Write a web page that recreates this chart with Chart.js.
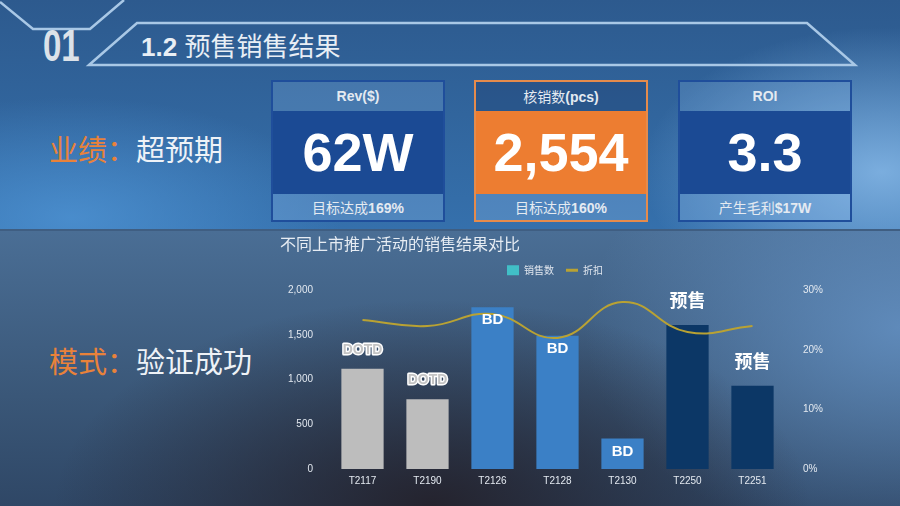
<!DOCTYPE html>
<html>
<head>
<meta charset="utf-8">
<script src="https://cdn.jsdelivr.net/npm/chart.js@4.4.1/dist/chart.umd.min.js"></script>
<style>
  html, body { margin: 0; padding: 0; }
  body { width: 900px; height: 506px; overflow: hidden; position: relative;
         font-family: "Liberation Sans", "Noto Sans CJK SC", sans-serif; }
  .top { position: absolute; left: 0; top: 0; width: 900px; height: 229px;
    background:
      radial-gradient(ellipse 38% 90% at 98% 75%, rgba(135,185,232,0.85), rgba(135,185,232,0) 70%),
      radial-gradient(ellipse 40% 70% at 8% 95%, rgba(80,150,215,0.75), rgba(80,150,215,0) 75%),
      linear-gradient(180deg, #2D5A8E 0%, #3570AC 100%); }
  .divider { position: absolute; left: 0; top: 229px; width: 900px; height: 2px; background: #3F5E82; }
  .bottom { position: absolute; left: 0; top: 231px; width: 900px; height: 275px;
    background:
      radial-gradient(ellipse 42% 75% at 48% 100%, rgba(36,34,44,0.97), rgba(36,34,44,0) 100%),
      radial-gradient(ellipse 35% 80% at 100% 35%, rgba(100,145,195,0.85), rgba(100,145,195,0) 100%),
      linear-gradient(180deg, #4A6E95 0%, #3A5778 60%, #2F4766 100%); }
  svg.deco { position: absolute; left: 0; top: 0; }
  .num01 { position: absolute; left: 43px; top: 22px; font-family: "Liberation Sans", sans-serif;
    font-weight: bold; font-size: 44px; color: #DCE2E9; line-height: 48px;
    transform: scaleX(0.75); transform-origin: left center; }
  .head { position: absolute; left: 141px; top: 29px; font-size: 26px; color: #E8EEF5; line-height: 32px; }
  .head b { font-family: "Liberation Sans", sans-serif; }
  .head span { font-family: "Noto Sans CJK SC", sans-serif; }
  .card { position: absolute; top: 80px; width: 170px; height: 138px; border: 2px solid #1F4E9B; }
  .card .h { height: 29px; line-height: 29px; text-align: center; color: #E4EAF1; font-size: 14px;
    background: rgba(150,195,240,0.22); }
  .card .m { height: 83px; line-height: 83px; text-align: center; color: #fff; font-weight: bold; font-size: 54px;
    background: #1B4A94; }
  .card .f { height: 26px; line-height: 26px; text-align: center; color: #E4EAF1; font-size: 14px;
    background: rgba(150,195,240,0.28); }
  .card.orange { border-color: #E58B4C; }
  .card.orange .m { background: #ED7D31; }
  .card.orange .h { background: rgba(30,60,110,0.35); }
  .cjk { font-family: "Noto Sans CJK SC", sans-serif; }
  .side { position: absolute; left: 49px; font-family: "Noto Sans CJK SC", sans-serif; font-size: 29px; color: #EEF2F7; line-height: 36px; }
  .side em { font-style: normal; color: #E9823A; }
  #chartBox { position: absolute; left: 270px; top: 230px; width: 560px; height: 276px; }
</style>
</head>
<body>
<div class="top"></div>
<div class="divider"></div>
<div class="bottom"></div>
<svg class="deco" width="900" height="80">
  <polyline points="0,2 33,29 90,29 124,0" fill="none" stroke="#A9C8E6" stroke-width="2.5"/>
  <polygon points="89,65 137,23 807,23 855,65" fill="none" stroke="#A9C8E6" stroke-width="2.5"/>
</svg>
<div class="num01">01</div>
<div class="head"><b>1.2</b> <span>预售销售结果</span></div>

<div class="card" style="left:271px"><div class="h"><b>Rev($)</b></div><div class="m">62W</div><div class="f"><span class="cjk">目标达成</span><b>169%</b></div></div>
<div class="card orange" style="left:474px"><div class="h"><span class="cjk">核销数</span><b>(pcs)</b></div><div class="m">2,554</div><div class="f"><span class="cjk">目标达成</span><b>160%</b></div></div>
<div class="card" style="left:678px"><div class="h"><b>ROI</b></div><div class="m">3.3</div><div class="f"><span class="cjk">产生毛利</span><b>$17W</b></div></div>

<div class="side" style="top:130px"><em>业绩：</em>超预期</div>
<div class="side" style="top:342px"><em>模式：</em>验证成功</div>

<div id="chartBox"><canvas id="salesChart"></canvas></div>

<script>
// chart data
const categories = ['T2117', 'T2190', 'T2126', 'T2128', 'T2130', 'T2250', 'T2251'];
const salesQty = [1120, 780, 1810, 1490, 340, 1610, 930];
const discountPct = [25, 24, 26, 22, 28, 23, 24];
const activityTags = ['DOTD', 'DOTD', 'BD', 'BD', 'BD', '预售', '预售'];
const leftTicks = [0, 500, 1000, 1500, 2000];
const rightTicks = [0, 10, 20, 30];

const tagColor = { 'DOTD': '#BDBDBD', 'BD': '#3B80C6', '预售': '#0C3766' };
const barColors = activityTags.map(t => tagColor[t]);

// draws the activity tag above / inside each bar
const tagLabels = {
    id: 'tagLabels',
    afterDatasetsDraw(chart) {
        const ctx = chart.ctx;
        const meta = chart.getDatasetMeta(0);
        meta.data.forEach((bar, i) => {
            const tag = activityTags[i];
            ctx.save();
            ctx.textAlign = 'center';
            ctx.textBaseline = 'middle';
            if (tag == 'DOTD') {
                ctx.font = 'bold 14px "Liberation Sans", sans-serif';
                ctx.lineWidth = 3;
                ctx.strokeStyle = '#FFFFFF';
                ctx.lineJoin = 'round';
                ctx.strokeText(tag, bar.x, bar.y - 19);
                ctx.fillStyle = '#C4C4C4';
                ctx.fillText(tag, bar.x, bar.y - 19);
            } else if (tag == 'BD') {
                ctx.font = 'bold 15px "Liberation Sans", sans-serif';
                ctx.fillStyle = '#FFFFFF';
                ctx.fillText(tag, bar.x, bar.y + 13);
            } else {
                ctx.font = 'bold 18px "Noto Sans CJK SC", sans-serif';
                ctx.fillStyle = '#FFFFFF';
                ctx.fillText(tag, bar.x, bar.y - 25);
            }
            ctx.restore();
        });
    }
};

// a little extra room under the legend
const legendGap = {
    id: 'legendGap',
    beforeInit(chart) {
        const fit = chart.legend.fit;
        chart.legend.fit = function() {
            fit.bind(chart.legend)();
            this.height += 5;
        };
    }
};

new Chart('salesChart', {
    type: 'bar',
    data: {
        labels: categories,
        datasets: [{
            label: '销售数',
            data: salesQty,
            backgroundColor: barColors,
            borderWidth: 0,
            barPercentage: 0.65,
            categoryPercentage: 1,
            yAxisID: 'y',
            order: 1
        }, {
            type: 'line',
            label: '折扣',
            data: discountPct,
            borderColor: '#B9A233',
            backgroundColor: '#B9A233',
            borderWidth: 2,
            pointRadius: 0,
            tension: 0.45,
            yAxisID: 'y1',
            order: 0
        }]
    },
    options: {
        responsive: true,
        maintainAspectRatio: false,
        animation: false,
        layout: { padding: { left: 10, right: 0, top: 0, bottom: 13 } },
        plugins: {
            title: {
                display: true,
                text: '不同上市推广活动的销售结果对比',
                align: 'start',
                color: '#E6ECF3',
                font: { size: 16, family: '"Noto Sans CJK SC", sans-serif', weight: 'normal' },
                padding: { top: 4, bottom: 0 }
            },
            legend: {
                display: true,
                labels: {
                    color: '#E0E6EE',
                    font: { size: 10, family: '"Noto Sans CJK SC", sans-serif' },
                    usePointStyle: true,
                    pointStyleWidth: 12,
                    boxHeight: 12,
                    padding: 12,
                    generateLabels: (chart) => [
                        { text: '销售数', fillStyle: '#41BFC7', strokeStyle: '#41BFC7', lineWidth: 0, fontColor: '#E0E6EE', datasetIndex: 0, pointStyle: 'rect' },
                        { text: '折扣', fillStyle: '#B9A233', strokeStyle: '#B9A233', lineWidth: 3, fontColor: '#E0E6EE', datasetIndex: 1, pointStyle: 'line' }
                    ]
                }
            },
            tooltip: { enabled: false }
        },
        scales: {
            x: {
                grid: { display: false, drawTicks: false },
                border: { display: false },
                ticks: { color: '#E3E9F0', font: { size: 10 }, padding: 6 }
            },
            y: {
                position: 'left',
                min: 0,
                max: 2000,
                afterBuildTicks: (scale) => { scale.ticks = leftTicks.map(v => ({ value: v })); },
                afterFit: (scale) => { scale.width = 50; },
                grid: { display: false, drawTicks: false },
                border: { display: false },
                ticks: {
                    color: '#E3E9F0', font: { size: 10 }, padding: 17,
                    callback: (v) => v.toLocaleString('en-US')
                }
            },
            y1: {
                position: 'right',
                min: 0,
                max: 30,
                afterBuildTicks: (scale) => { scale.ticks = rightTicks.map(v => ({ value: v })); },
                afterFit: (scale) => { scale.width = 45; },
                grid: { display: false, drawTicks: false },
                border: { display: false },
                ticks: {
                    color: '#E3E9F0', font: { size: 10 }, padding: 18,
                    callback: (v) => v + '%'
                }
            }
        }
    },
    plugins: [tagLabels, legendGap]
});
</script>
</body>
</html>
